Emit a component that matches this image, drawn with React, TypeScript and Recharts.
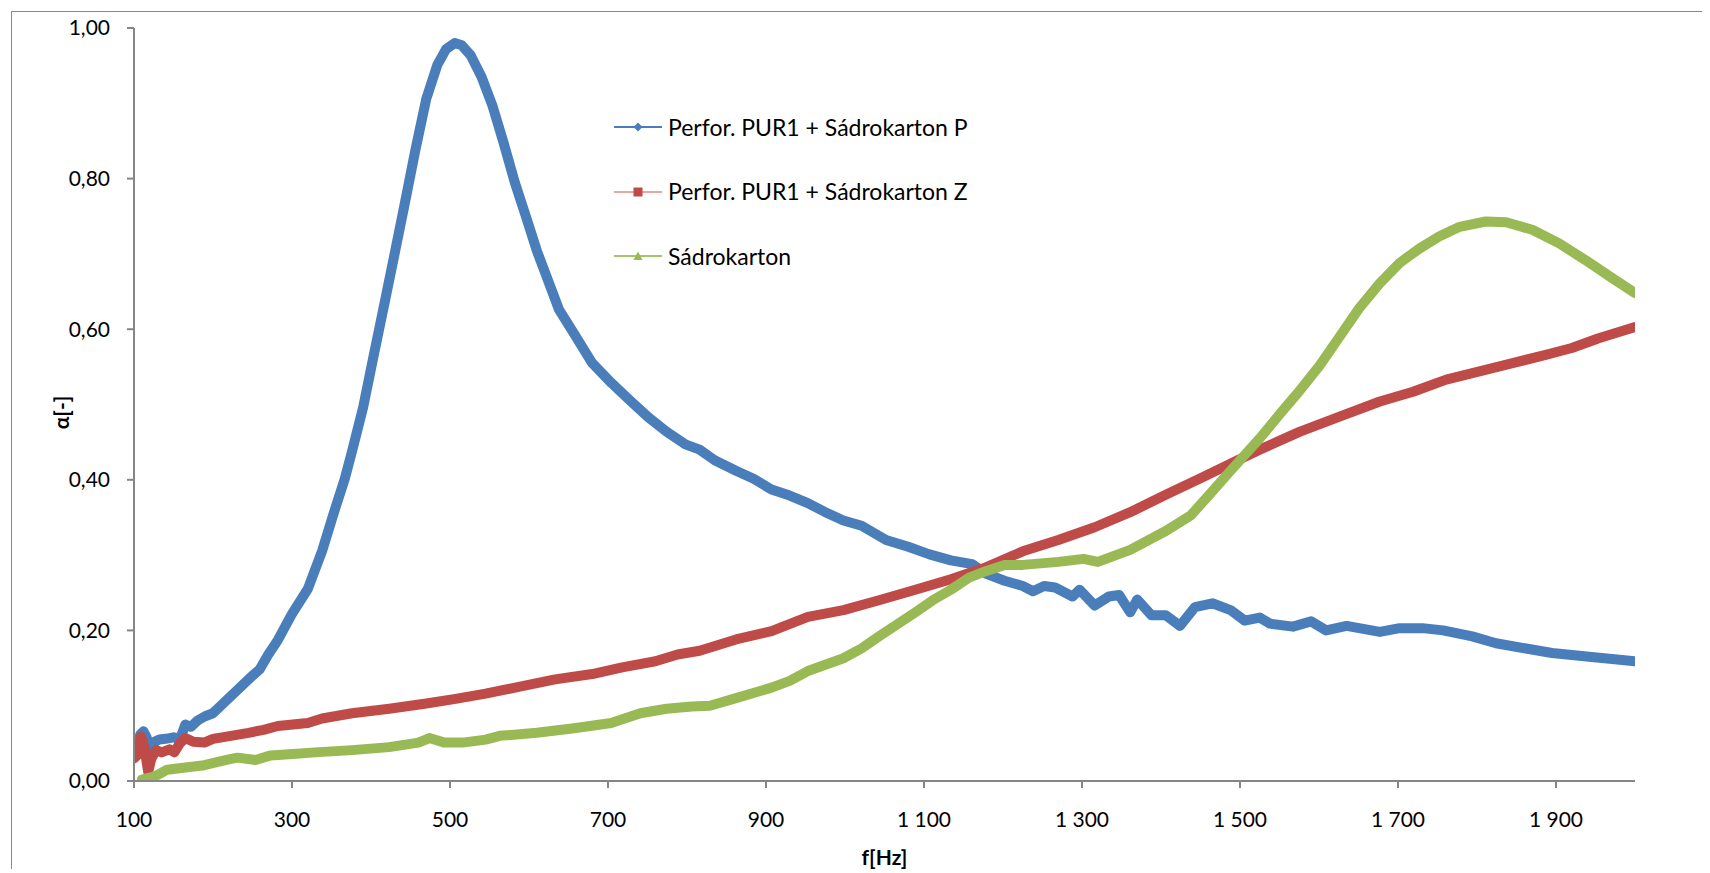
import React from 'react';
import { LineChart, Line, XAxis, YAxis, Legend, Label } from 'recharts';

// Series 1: Perfor. PUR1 + Sádrokarton P
const pFreq = [100, 104, 108, 112, 116, 122, 126, 132, 140, 150, 158, 165, 172, 180, 190, 200, 217, 235, 250, 259, 270, 282, 300, 320, 338, 352, 367, 376, 390, 404, 418, 432, 442, 456, 470, 484, 495, 506, 515, 526, 540, 554, 568, 582, 596, 610, 624, 638, 657, 680, 704, 727, 751, 774, 798, 816, 835, 862, 885, 907, 930, 953, 975, 998, 1021, 1052, 1080, 1107, 1134, 1161, 1179, 1202, 1225, 1238, 1252, 1266, 1288, 1297, 1316, 1334, 1347, 1361, 1370, 1388, 1406, 1424, 1443, 1465, 1488, 1506, 1525, 1538, 1567, 1590, 1609, 1635, 1677, 1702, 1731, 1757, 1794, 1824, 1862, 1895, 1942, 2000];
const pAlpha = [0.040, 0.047, 0.062, 0.066, 0.058, 0.036, 0.052, 0.055, 0.056, 0.058, 0.055, 0.075, 0.072, 0.080, 0.086, 0.090, 0.107, 0.125, 0.140, 0.148, 0.168, 0.187, 0.222, 0.255, 0.305, 0.353, 0.402, 0.438, 0.496, 0.568, 0.639, 0.711, 0.763, 0.837, 0.906, 0.951, 0.972, 0.980, 0.977, 0.964, 0.935, 0.896, 0.847, 0.795, 0.750, 0.704, 0.665, 0.626, 0.594, 0.555, 0.529, 0.506, 0.483, 0.464, 0.447, 0.440, 0.426, 0.412, 0.401, 0.387, 0.379, 0.369, 0.357, 0.346, 0.339, 0.320, 0.311, 0.301, 0.293, 0.288, 0.275, 0.266, 0.259, 0.252, 0.259, 0.257, 0.245, 0.254, 0.233, 0.245, 0.247, 0.224, 0.241, 0.220, 0.220, 0.206, 0.231, 0.236, 0.227, 0.213, 0.217, 0.209, 0.205, 0.212, 0.200, 0.206, 0.198, 0.203, 0.203, 0.200, 0.192, 0.183, 0.176, 0.170, 0.165, 0.159];

// Series 2: Perfor. PUR1 + Sádrokarton Z
const zFreq = [100, 105, 109, 113, 118, 122, 128, 135, 145, 151, 158, 165, 175, 189, 200, 217, 245, 264, 282, 320, 338, 376, 423, 470, 507, 545, 587, 633, 680, 718, 760, 788, 816, 862, 907, 953, 998, 1043, 1089, 1134, 1179, 1225, 1270, 1316, 1361, 1406, 1452, 1497, 1525, 1576, 1626, 1677, 1719, 1761, 1803, 1845, 1887, 1920, 1954, 2000];
const zAlpha = [0.030, 0.035, 0.059, 0.045, 0.012, 0.030, 0.041, 0.038, 0.042, 0.038, 0.050, 0.057, 0.052, 0.051, 0.056, 0.059, 0.064, 0.068, 0.073, 0.077, 0.083, 0.090, 0.096, 0.103, 0.109, 0.116, 0.125, 0.135, 0.142, 0.151, 0.159, 0.168, 0.173, 0.188, 0.199, 0.218, 0.227, 0.240, 0.254, 0.268, 0.284, 0.305, 0.320, 0.337, 0.357, 0.380, 0.403, 0.426, 0.440, 0.464, 0.484, 0.504, 0.517, 0.533, 0.544, 0.555, 0.566, 0.575, 0.588, 0.603];

// Series 3: Sádrokarton
const sFreq = [110, 114, 123, 130, 142, 165, 189, 217, 231, 254, 273, 301, 329, 376, 423, 460, 474, 493, 516, 545, 563, 610, 657, 704, 741, 774, 806, 829, 862, 907, 930, 953, 998, 1021, 1043, 1066, 1089, 1111, 1134, 1157, 1179, 1202, 1225, 1270, 1302, 1320, 1361, 1406, 1438, 1461, 1488, 1500, 1525, 1551, 1576, 1601, 1626, 1651, 1677, 1702, 1727, 1752, 1778, 1811, 1837, 1870, 1904, 1937, 1971, 2000];
const sAlpha = [0.002, 0.003, 0.005, 0.008, 0.015, 0.018, 0.021, 0.028, 0.031, 0.028, 0.034, 0.036, 0.038, 0.041, 0.045, 0.051, 0.057, 0.051, 0.051, 0.055, 0.060, 0.064, 0.070, 0.077, 0.090, 0.096, 0.099, 0.100, 0.110, 0.124, 0.133, 0.146, 0.163, 0.176, 0.192, 0.208, 0.224, 0.240, 0.254, 0.270, 0.279, 0.287, 0.287, 0.291, 0.295, 0.291, 0.307, 0.332, 0.353, 0.380, 0.412, 0.426, 0.455, 0.488, 0.519, 0.552, 0.590, 0.628, 0.661, 0.688, 0.707, 0.723, 0.736, 0.743, 0.742, 0.732, 0.714, 0.692, 0.668, 0.648];

const xTicks = [100, 300, 500, 700, 900, 1100, 1300, 1500, 1700, 1900];
const yTicks = [0, 0.2, 0.4, 0.6, 0.8, 1.0];

const seriesNames = ['Perfor. PUR1 + Sádrokarton P', 'Perfor. PUR1 + Sádrokarton Z', 'Sádrokarton'];
const seriesColors = ['#4A7EBB', '#BE4B48', '#98B954'];
const legendLineColors = ['#4A7EBB', '#E8A6A5', '#A6C46C'];

const build = (fs: number[], as: number[]) => fs.map((f, i) => ({ f, a: as[i] }));
const pData = build(pFreq, pAlpha);
const zData = build(zFreq, zAlpha);
const sData = build(sFreq, sAlpha);

const FONT = 'Lato, "Open Sans", sans-serif';
const AXIS = '#868686';

const fmtX = (v: number) => {
  if (v >= 1000) {
    const th = Math.floor(v / 1000);
    const rest = String(v % 1000).padStart(3, '0');
    return `${th}\u00a0${rest}`;
  }
  return String(v);
};
const fmtY = (v: number) => v.toFixed(2).replace('.', ',');

const markers = [
  (c: string) => <polygon points="24,5.5 28.5,10 24,14.5 19.5,10" fill={c} />,
  (c: string) => <rect x={19.5} y={5.5} width={9} height={9} fill={c} />,
  (c: string) => <polygon points="24,5.5 28.5,14 19.5,14" fill={c} />,
];

const renderLegend = () => (
  <div style={{ fontFamily: FONT, fontSize: 23, color: '#000' }}>
    {seriesNames.map((name, i) => (
      <div key={name} style={{ display: 'flex', alignItems: 'center', height: 64.5 }}>
        <svg width={48} height={20} style={{ display: 'block' }}>
          <line x1={0} y1={10} x2={48} y2={10} stroke={legendLineColors[i]} strokeWidth={2} />
          {markers[i](seriesColors[i])}
        </svg>
        <span style={{ marginLeft: 6, lineHeight: 1, whiteSpace: 'nowrap' }}>{name}</span>
      </div>
    ))}
  </div>
);

const XTitle = (props: any) => {
  const vb = props.viewBox || { x: 122, y: 769, width: 1501, height: 30 };
  return (
    <text x={vb.x + vb.width / 2} y={vb.y + 84} textAnchor="middle" fontFamily={FONT} fontWeight="bold" fontSize={21} fill="#000">
      f[Hz]
    </text>
  );
};

const YTitle = (props: any) => {
  const vb = props.viewBox || { x: 62, y: 16, width: 60, height: 753 };
  const cx = vb.x - 12;
  const cy = vb.y + vb.height / 2 + 8;
  return (
    <text x={cx} y={cy} dy="0.35em" textAnchor="middle" transform={`rotate(-90, ${cx}, ${cy})`} fontFamily={FONT} fontWeight="bold" fontSize={21} fill="#000">
      α[-]
    </text>
  );
};

export default function App() {
  return (
    <>
      <style>{'html,body{overflow:hidden}'}</style>
      <div
        style={{
          position: 'relative',
          left: 3,
          top: 3,
          width: 1690,
          height: 860,
          borderLeft: '1px solid #898989',
          borderTop: '1px solid #898989',
          background: '#fff',
        }}
      >
        <LineChart width={1690} height={860} margin={{ top: 16, right: 67, bottom: 61, left: 62 }}>
          <XAxis
            type="number"
            dataKey="f"
            domain={[100, 2000]}
            ticks={xTicks}
            tickFormatter={fmtX}
            allowDataOverflow
            stroke={AXIS}
            strokeWidth={2}
            tickSize={7}
            tickMargin={24}
            tick={{ fill: '#000', fontSize: 21, fontFamily: FONT }}
            interval={0}
          >
            <Label content={<XTitle />} />
          </XAxis>
          <YAxis
            type="number"
            width={60}
            domain={[0, 1]}
            ticks={yTicks}
            tickFormatter={fmtY}
            allowDataOverflow
            stroke={AXIS}
            strokeWidth={2}
            tickSize={7}
            tickMargin={17}
            tick={{ fill: '#000', fontSize: 21, fontFamily: FONT }}
            interval={0}
          >
            <Label content={<YTitle />} />
          </YAxis>
          <Legend
            layout="horizontal"
            verticalAlign="middle"
            align="center"
            content={renderLegend}
            wrapperStyle={{ left: 602, top: 83, width: 420, height: 200 }}
          />
          <Line data={pData} dataKey="a" name={seriesNames[0]} type="linear" stroke={seriesColors[0]} strokeWidth={10} strokeLinejoin="round" strokeLinecap="round" dot={false} activeDot={false} isAnimationActive={false} />
          <Line data={zData} dataKey="a" name={seriesNames[1]} type="linear" stroke={seriesColors[1]} strokeWidth={10} strokeLinejoin="round" strokeLinecap="round" dot={false} activeDot={false} isAnimationActive={false} />
          <Line data={sData} dataKey="a" name={seriesNames[2]} type="linear" stroke={seriesColors[2]} strokeWidth={10} strokeLinejoin="round" strokeLinecap="round" dot={false} activeDot={false} isAnimationActive={false} />
        </LineChart>
      </div>
    </>
  );
}
